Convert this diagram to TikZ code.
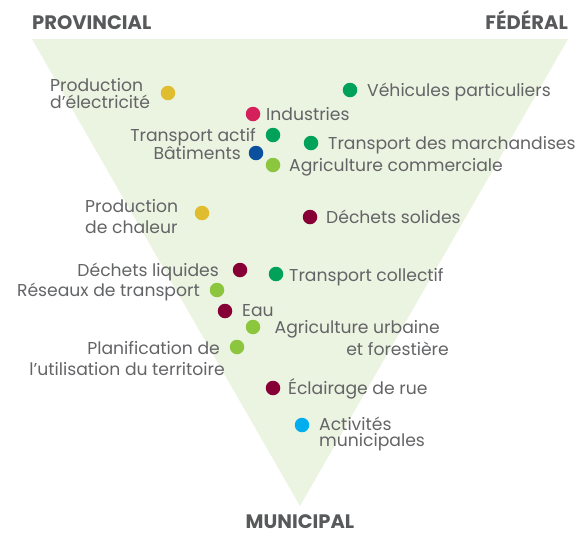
\documentclass[tikz,border=0pt]{standalone}
\usepackage{fontspec}
\setmainfont{Poppins}
\definecolor{zone}{HTML}{EBF3E1}
\definecolor{txtgray}{HTML}{636466}
\definecolor{headgray}{HTML}{58595B}
\definecolor{cYellow}{HTML}{DFBD2F}
\definecolor{cRose}{HTML}{D5205C}
\definecolor{cGreen}{HTML}{00A159}
\definecolor{cBlue}{HTML}{0B509E}
\definecolor{cLime}{HTML}{8CC63F}
\definecolor{cWine}{HTML}{860036}
\definecolor{cCyan}{HTML}{00AEEF}
\begin{document}
\begin{tikzpicture}[x=1pt,y=-1pt,
  lbl/.style={font=\fontsize{17.2}{20}\selectfont, text=txtgray, inner sep=0pt},
  head/.style={font=\fontsize{19.5}{22}\selectfont\bfseries, text=headgray, inner sep=0pt},
  dot/.style={circle, fill=#1, minimum size=14.5pt, inner sep=0pt}]
\useasboundingbox (0,0) rectangle (588,539);
% jurisdiction triangle
\fill[zone] (32,39) -- (568,39) -- (300,506) -- cycle;
% level headings
\node[head, anchor=base west] (prov) at (32,29) {PROVINCIAL};
\node[head, anchor=base east] (fed) at (568,29) {FÉDÉRAL};
\node[head, anchor=base] (mun) at (300,528) {MUNICIPAL};
% sectors (two-line labels are placed by the baseline of their last line)
\node[dot=cYellow] (elec) at (168,93) {};
\node[lbl, anchor=base west, align=left, font=\fontsize{17.2}{16.5}\selectfont] (elecT) at (50,108) {Production\\d’électricité};
\node[dot=cGreen] (vehi) at (350,90) {};
\node[lbl, anchor=base west] (vehiT) at (367,96.5) {Véhicules particuliers};
\node[dot=cRose] (indu) at (253,114) {};
\node[lbl, anchor=base west] (induT) at (266,120) {Industries};
\node[dot=cGreen] (acti) at (273,135) {};
\node[lbl, anchor=base east] (actiT) at (256,141.5) {Transport actif};
\node[dot=cGreen] (march) at (311,143) {};
\node[lbl, anchor=base west] (marchT) at (328,149) {Transport des marchandises};
\node[dot=cBlue] (bati) at (256,153) {};
\node[lbl, anchor=base east] (batiT) at (241,159.5) {Bâtiments};
\node[dot=cLime] (agco) at (273,165) {};
\node[lbl, anchor=base west] (agcoT) at (289,171.5) {Agriculture commerciale};
\node[dot=cYellow] (chal) at (202,213) {};
\node[lbl, anchor=base west, align=left, font=\fontsize{17.2}{20.6}\selectfont] (chalT) at (85,233.3) {Production\\de chaleur};
\node[dot=cWine] (soli) at (310,217) {};
\node[lbl, anchor=base west] (soliT) at (326,223.3) {Déchets solides};
\node[dot=cWine] (liqu) at (240,270) {};
\node[lbl, anchor=base east] (liquT) at (219,276.5) {Déchets liquides};
\node[dot=cGreen] (coll) at (276,274) {};
\node[lbl, anchor=base west] (collT) at (289,281) {Transport collectif};
\node[dot=cLime] (rese) at (217,290) {};
\node[lbl, anchor=base east] (reseT) at (200,296.5) {Réseaux de transport};
\node[dot=cWine] (eau) at (225,311) {};
\node[lbl, anchor=base west] (eauT) at (242,316.5) {Eau};
\node[dot=cLime] (agur) at (253,327) {};
\node[lbl, anchor=base east, align=right, font=\fontsize{17.2}{21.7}\selectfont] (agurT) at (449,355) {Agriculture urbaine\hspace*{9pt}\\et forestière};
\node[dot=cLime] (plan) at (237,347) {};
\node[lbl, anchor=base east, align=right, font=\fontsize{17.2}{20.7}\selectfont] (planT) at (225,375) {Planification de\hspace*{5pt}\\l’utilisation du territoire};
\node[dot=cWine] (ecla) at (273,388) {};
\node[lbl, anchor=base west] (eclaT) at (288,394.5) {Éclairage de rue};
\node[dot=cCyan] (muni) at (302,425) {};
\node[lbl, anchor=base west, align=left, font=\fontsize{17.2}{16}\selectfont] (muniT) at (319,446) {Activités\\municipales};
\end{tikzpicture}
\end{document}
